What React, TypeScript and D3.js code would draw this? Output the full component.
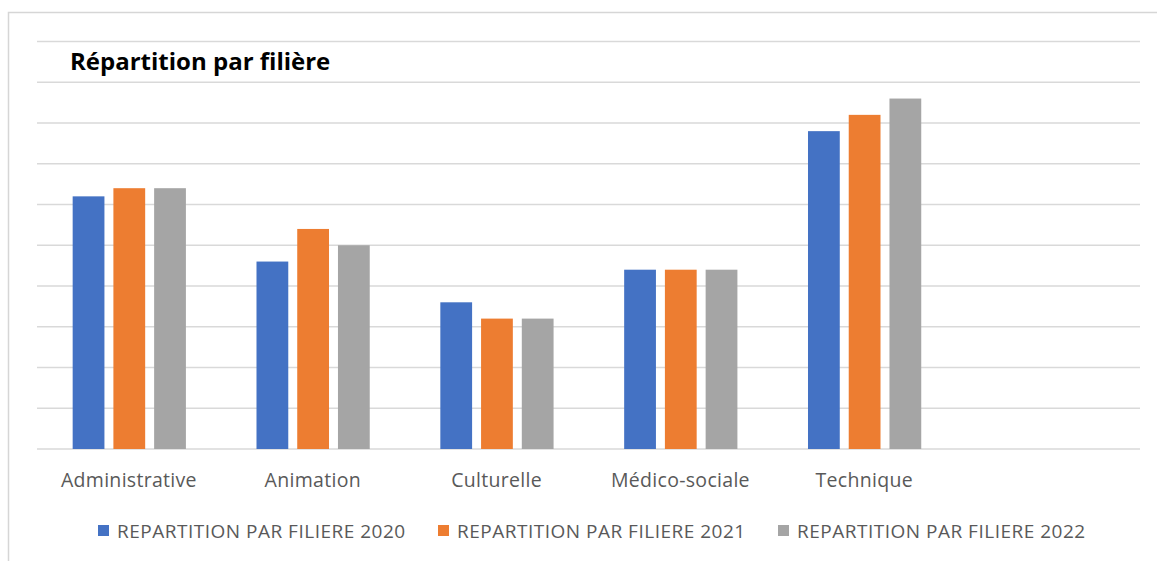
import React from "react";
import * as d3 from "d3";

// Categories (last slot left empty, as in the source workbook)
const categories: string[] = ["Administrative", "Animation", "Culturelle", "Médico-sociale", "Technique", ""];

const seriesNames: string[] = [
  "REPARTITION PAR FILIERE 2020",
  "REPARTITION PAR FILIERE 2021",
  "REPARTITION PAR FILIERE 2022",
];

const values2020: number[] = [31, 23, 18, 22, 39];
const values2021: number[] = [32, 27, 16, 22, 41];
const values2022: number[] = [32, 25, 16, 22, 43];

const seriesColors: string[] = ["#4472C4", "#ED7D31", "#A5A5A5"];

const yTicks: number[] = [0, 5, 10, 15, 20, 25, 30, 35, 40, 45, 50];

const chartTitle = "Répartition par filière";

const W = 1157;
const H = 561;

export default function App() {
  const seriesValues = [values2020, values2021, values2022];

  const plotLeft = 37;
  const plotRight = 1140;
  const plotTop = 41.5;
  const plotBottom = 449;

  const x0 = d3.scaleBand<string>().domain(categories).range([plotLeft, plotRight]).padding(0);
  const bw = x0.bandwidth();
  const x1 = d3
    .scaleBand<string>()
    .domain(seriesNames)
    .range([bw * 0.194, bw * 0.81])
    .paddingInner(0.22)
    .paddingOuter(0);
  const y = d3.scaleLinear().domain([0, 50]).range([plotBottom, plotTop]);

  const font = "'Open Sans', 'Noto Sans', sans-serif";
  const legendX = [98, 438, 778];

  return (
    <svg
      width={W}
      height={H}
      style={{ position: "absolute", left: 0, top: 0, background: "#fff" }}
    >
      <rect x={0} y={0} width={W} height={H} fill="#fff" />
      {/* chart frame */}
      <path d={`M8.5,${H} V12.5 H${W}`} fill="none" stroke="#d6d6d6" strokeWidth={1.5} />

      {/* horizontal gridlines */}
      {yTicks.map((t) => (
        <line
          key={t}
          x1={plotLeft}
          x2={plotRight}
          y1={y(t)}
          y2={y(t)}
          stroke="#d9d9d9"
          strokeWidth={1.3}
        />
      ))}

      {/* bars */}
      {categories
        .filter((c) => c !== "")
        .map((c, i) => (
          <g key={c} transform={`translate(${x0(c)},0)`}>
            {seriesNames.map((s, k) => {
              const v = seriesValues[k][i];
              return (
                <rect
                  key={s}
                  x={x1(s)}
                  y={y(v)}
                  width={x1.bandwidth()}
                  height={y(0) - y(v)}
                  fill={seriesColors[k]}
                />
              );
            })}
          </g>
        ))}

      {/* category labels */}
      {categories
        .filter((c) => c !== "")
        .map((c) => (
          <text
            key={c}
            x={(x0(c) as number) + bw / 2}
            y={487}
            textAnchor="middle"
            fontFamily={font}
            fontSize={19.5}
            letterSpacing={0.3}
            fill="#595959"
          >
            {c}
          </text>
        ))}

      {/* title */}
      <text x={70} y={70} fontFamily={font} fontWeight="bold" fontSize={24} fill="#000">
        {chartTitle}
      </text>

      {/* legend */}
      {seriesNames.map((s, k) => (
        <g key={s} transform={`translate(${legendX[k]},0)`}>
          <rect x={0} y={525} width={11} height={11} fill={seriesColors[k]} />
          <text x={19} y={537.5} fontFamily={font} fontSize={19} letterSpacing={0.5} fill="#595959">
            {s}
          </text>
        </g>
      ))}
    </svg>
  );
}
